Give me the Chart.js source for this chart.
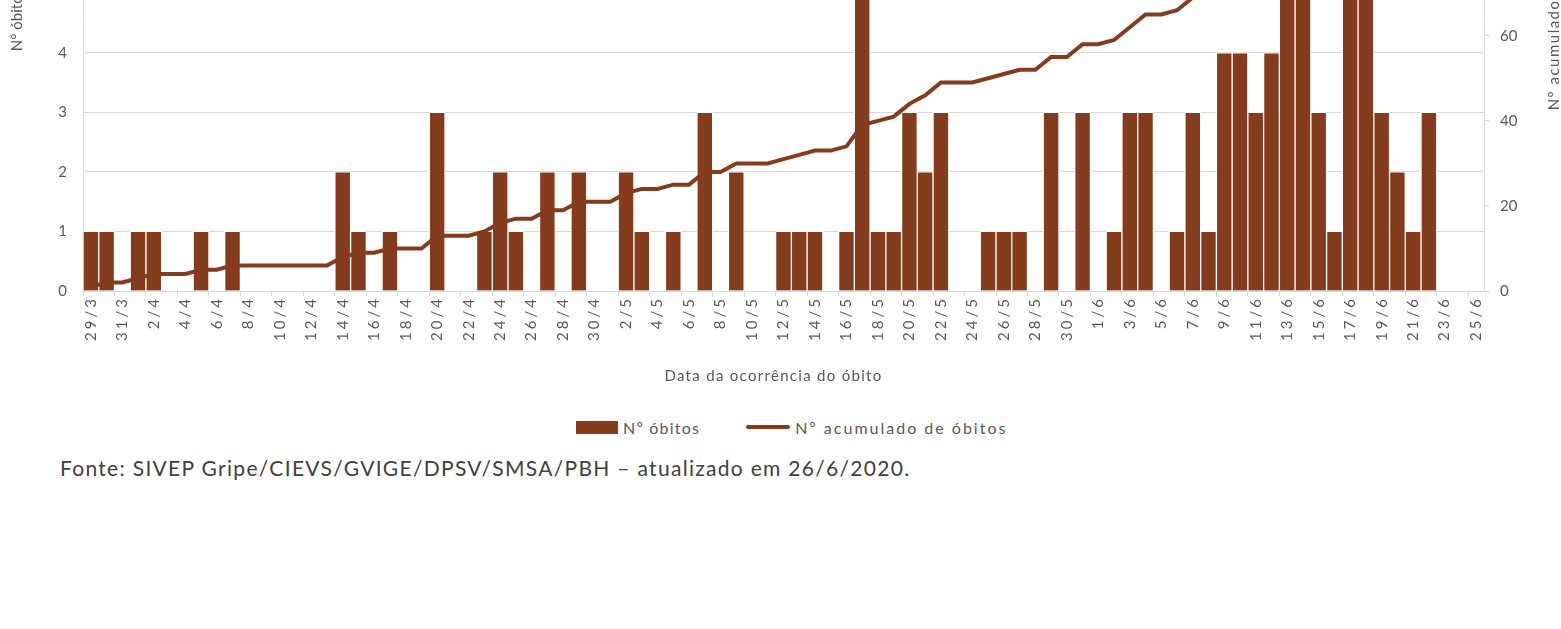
<!DOCTYPE html>
<html lang="pt-BR">
<head>
<meta charset="utf-8">
<title>Óbitos por data de ocorrência</title>
<script src="https://cdn.jsdelivr.net/npm/chart.js@4.4.1/dist/chart.umd.min.js"></script>
<style>
  html, body { margin: 0; padding: 0; background: #fff; overflow: hidden; }
  body { width: 1561px; height: 629px; position: relative; font-family: Lato, "Open Sans", sans-serif; }
  /* o gráfico começa acima da janela: a parte de cima fica cortada, como no original */
  #chartBox { position: absolute; left: 0; top: -270px; width: 1561px; height: 661px; }
  #legend { position: absolute; left: 576px; top: 417px; height: 20px; display: flex; align-items: center; font-size: 16px; color: #595959; }
  #legend .bar { width: 42px; height: 13px; margin-right: 5px; }
  #legend .line { width: 44px; height: 4px; border-radius: 2px; margin-left: 46px; margin-right: 5px; }
  #legend .t1 { letter-spacing: 1.2px; }
  #legend .t2 { letter-spacing: 2px; }
  #fonte { position: absolute; left: 60px; top: 456px; font-size: 21px; letter-spacing: 1.3px; line-height: 24px; color: #404040; white-space: nowrap; }
</style>
</head>
<body>
<div id="chartBox"><canvas id="chart" width="1561" height="661"></canvas></div>
<div id="legend">
  <span class="bar"></span><span class="t1">Nº óbitos</span>
  <span class="line"></span><span class="t2">Nº acumulado de óbitos</span>
</div>
<div id="fonte">Fonte: SIVEP Gripe/CIEVS/GVIGE/DPSV/SMSA/PBH – atualizado em 26/6/2020.</div>

<script>
const BROWN = '#843C1C';
const GREY_TEXT = '#595959';
const GREY_LINE = '#d9d9d9';
const FONT = 'Lato, "Open Sans", sans-serif';

// datas (29/3 a 25/6)
const dias = [
  '29/3', '30/3', '31/3',
  '1/4', '2/4', '3/4', '4/4', '5/4', '6/4', '7/4', '8/4', '9/4', '10/4',
  '11/4', '12/4', '13/4', '14/4', '15/4', '16/4', '17/4', '18/4', '19/4', '20/4',
  '21/4', '22/4', '23/4', '24/4', '25/4', '26/4', '27/4', '28/4', '29/4', '30/4',
  '1/5', '2/5', '3/5', '4/5', '5/5', '6/5', '7/5', '8/5', '9/5', '10/5',
  '11/5', '12/5', '13/5', '14/5', '15/5', '16/5', '17/5', '18/5', '19/5', '20/5',
  '21/5', '22/5', '23/5', '24/5', '25/5', '26/5', '27/5', '28/5', '29/5', '30/5', '31/5',
  '1/6', '2/6', '3/6', '4/6', '5/6', '6/6', '7/6', '8/6', '9/6', '10/6',
  '11/6', '12/6', '13/6', '14/6', '15/6', '16/6', '17/6', '18/6', '19/6', '20/6',
  '21/6', '22/6', '23/6', '24/6', '25/6'
];

// Nº óbitos por dia
const obitos = [
  1, 1, 0,
  1, 1, 0, 0, 1, 0, 1, 0, 0, 0,
  0, 0, 0, 2, 1, 0, 1, 0, 0, 3,
  0, 0, 1, 2, 1, 0, 2, 0, 2, 0,
  0, 2, 1, 0, 1, 0, 3, 0, 2, 0,
  0, 1, 1, 1, 0, 1, 5, 1, 1, 3,
  2, 3, 0, 0, 1, 1, 1, 0, 3, 0, 3,
  0, 1, 3, 3, 0, 1, 3, 1, 4, 4,
  3, 4, 5, 5, 3, 1, 6, 6, 3, 2,
  1, 3, 0, 0, 0
];

// Nº acumulado de óbitos
const acumulado = [
  1, 2, 2,
  3, 4, 4, 4, 5, 5, 6, 6, 6, 6,
  6, 6, 6, 8, 9, 9, 10, 10, 10, 13,
  13, 13, 14, 16, 17, 17, 19, 19, 21, 21,
  21, 23, 24, 24, 25, 25, 28, 28, 30, 30,
  30, 31, 32, 33, 33, 34, 39, 40, 41, 44,
  46, 49, 49, 49, 50, 51, 52, 52, 55, 55, 58,
  58, 59, 62, 65, 65, 66, 69, 70, 74, 78,
  81, 85, 90, 95, 98, 99, 105, 111, 114, 116,
  117, 120, 120, 120, 120
];

const ticksEsq = { min: 0, max: 9, step: 1 };
const ticksDir = { min: 0, max: 126, step: 20 };

document.querySelector('#legend .bar').style.background = BROWN;
document.querySelector('#legend .line').style.background = BROWN;

function escreve(ctx, texto, x, y, rot, espaco) {
  ctx.save();
  ctx.translate(x, y);
  ctx.rotate(rot);
  ctx.letterSpacing = espaco;
  ctx.textAlign = 'center';
  ctx.textBaseline = 'middle';
  ctx.font = '15px ' + FONT;
  ctx.fillStyle = GREY_TEXT;
  ctx.fillText(texto, 0, 0);
  ctx.restore();
}

// títulos dos eixos (o da direita lê de baixo para cima, como no Excel)
// e espaçamento das letras nos rótulos do eixo x, desenhados depois das barras (ticks.z: 1)
const titulos = {
  id: 'titulos',
  beforeDraw(chart) { chart.ctx.letterSpacing = '0px'; },
  afterDatasetsDraw(chart) { chart.ctx.letterSpacing = '3px'; },
  afterDraw(chart) {
    const { ctx, chartArea: a } = chart;
    const meio = (a.top + a.bottom) / 2;
    ctx.letterSpacing = '0px';
    escreve(ctx, 'N° óbitos', 17, meio - 3, -Math.PI / 2, '0px');
    escreve(ctx, 'Nº acumulado de óbitos', chart.width - 7, meio - 8, -Math.PI / 2, '1.5px');
    escreve(ctx, 'Data da ocorrência do óbito', (a.left + a.right) / 2 - 10, a.bottom + 85, 0, '1.3px');
  }
};

new Chart(document.getElementById('chart'), {
  type: 'bar',
  data: {
    labels: dias,
    datasets: [
      {
        type: 'line',
        label: 'Nº acumulado de óbitos',
        data: acumulado,
        yAxisID: 'y1',
        borderColor: BROWN,
        borderWidth: 4,
        pointRadius: 0,
        tension: 0,
        order: 0
      },
      {
        label: 'Nº óbitos',
        data: obitos,
        yAxisID: 'y',
        backgroundColor: BROWN,
        borderColor: '#ffffff',
        borderWidth: 1,
        barPercentage: 1,
        categoryPercentage: 1,
        order: 1
      }
    ]
  },
  options: {
    responsive: false,
    animation: false,
    layout: { padding: { top: 20, left: 0, right: 0, bottom: 0 } },
    plugins: {
      legend: { display: false },
      tooltip: { enabled: false }
    },
    scales: {
      x: {
        afterFit: s => { s.height = 100; },
        border: { color: GREY_LINE },
        grid: {
          drawOnChartArea: false,
          tickLength: 5,
          color: c => (c.index % 2 === 0 ? GREY_LINE : 'rgba(0,0,0,0)')
        },
        ticks: {
          z: 1,
          autoSkip: false,
          minRotation: 90,
          maxRotation: 90,
          padding: 0,
          color: GREY_TEXT,
          font: { family: FONT, size: 15 },
          callback: function (v, i) { return i % 2 === 0 ? this.getLabelForValue(v) : ''; }
        }
      },
      y: {
        position: 'left',
        min: ticksEsq.min,
        max: ticksEsq.max,
        afterFit: s => { s.width = 83; },
        border: { color: GREY_LINE },
        grid: { color: GREY_LINE, drawTicks: false },
        ticks: {
          stepSize: ticksEsq.step,
          padding: 16,
          color: GREY_TEXT,
          font: { family: FONT, size: 15 }
        }
      },
      y1: {
        position: 'right',
        min: ticksDir.min,
        max: ticksDir.max,
        afterFit: s => { s.width = 77; },
        border: { color: GREY_LINE },
        grid: { drawOnChartArea: false, tickLength: 5, color: GREY_LINE },
        ticks: {
          stepSize: ticksDir.step,
          padding: 11,
          color: GREY_TEXT,
          font: { family: FONT, size: 15 },
          callback: v => (v % ticksDir.step === 0 ? v : '')
        }
      }
    }
  },
  plugins: [titulos]
});
</script>
</body>
</html>
